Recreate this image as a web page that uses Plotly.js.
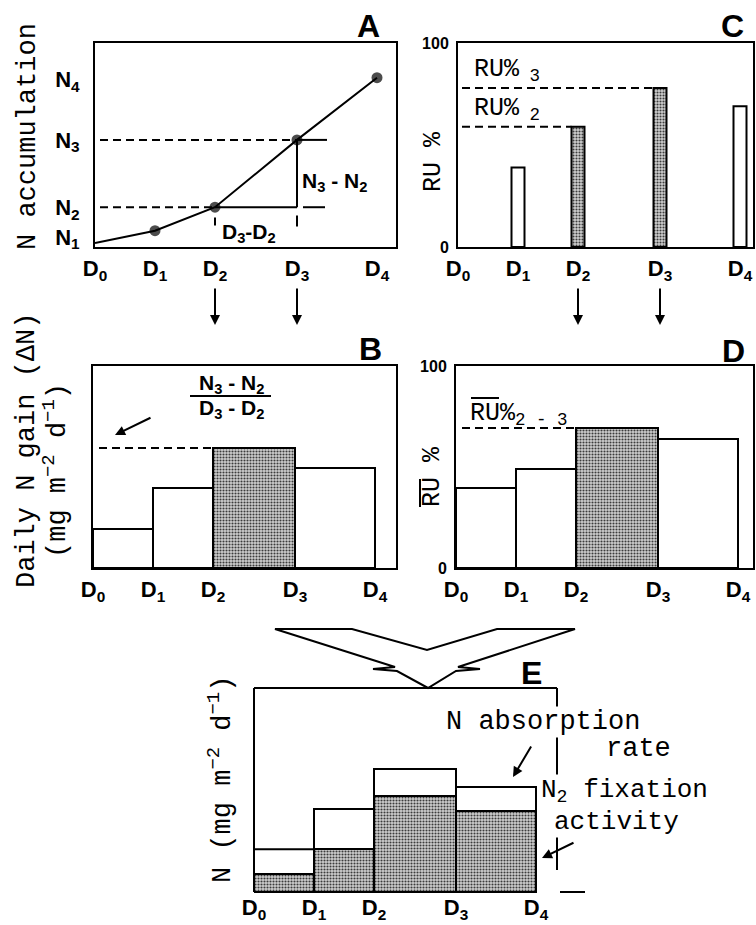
<!DOCTYPE html>
<html>
<head>
<meta charset="utf-8">
<script src="https://cdn.plot.ly/plotly-3.0.1.min.js"></script>
<style>html,body{margin:0;padding:0;background:#fff;}#chart{width:756px;height:925px;}</style>
</head>
<body>
<div id="chart"></div>
<script>
// ---------------- data ----------------
const dLabels = ['D<sub>0</sub>', 'D<sub>1</sub>', 'D<sub>2</sub>', 'D<sub>3</sub>', 'D<sub>4</sub>'];
const dDays = [0, 30, 60, 101, 141];
const nAccum = [2, 8, 19.5, 52.5, 83];
const nTickVals = [5, 19.5, 52.5, 82];
const nTickText = ['N<sub>1</sub>', 'N<sub>2</sub>', 'N<sub>3</sub>', 'N<sub>4</sub>'];
const ruPct = [39, 59, 78, 69];            // at D1..D4
const ruShaded = [false, true, true, false];
const dailyGain = [19.3, 39.6, 59.4, 49.5]; // D0-D1 .. D3-D4
const ruMean = [39.6, 49, 69.3, 63.9];
const absorption = [21, 40.7, 60.3, 51.5];
const fixation = [8.8, 21.1, 47.1, 39.7];
const periodShaded = [false, false, true, false];

// ---------------- helpers ----------------
const W = 756, H = 925;
const px = x => x / W;
const py = y => 1 - y / H;
const MONO = '"Liberation Mono", "DejaVu Sans Mono", monospace';
const COND = '"Liberation Sans Narrow", "Liberation Sans", Arial, sans-serif';
const GRAY_BG = '#d0d0d0', GRAY_FG = '#3c3c3c';
const DASH = '8px,5px';

const mids = dDays.slice(0, -1).map((d, i) => (d + dDays[i + 1]) / 2);
const widths = dDays.slice(0, -1).map((d, i) => dDays[i + 1] - d);
const cBarW = 6.5;

const PATTERN = { shape: '.', fgcolor: GRAY_FG, bgcolor: GRAY_BG, size: 3, solidity: 0.4 };
const pick = (arr, flags, want) => arr.filter((v, i) => flags[i] === want);

function barPair(xs, ys, ws, flags, xa, ya) {
  const out = [];
  [false, true].forEach(sh => {
    const t = {
      type: 'bar', x: pick(xs, flags, sh), y: pick(ys, flags, sh), xaxis: xa, yaxis: ya, hoverinfo: 'skip',
      width: Array.isArray(ws) ? pick(ws, flags, sh) : ws,
      marker: { color: sh ? GRAY_BG : 'white', line: { color: 'black', width: 2 } }
    };
    if (sh) t.marker.pattern = PATTERN;
    out.push(t);
  });
  return out;
}

// ---------------- traces ----------------
const traces = [
  { // A
    type: 'scatter', mode: 'lines+markers', x: dDays, y: nAccum, xaxis: 'x', yaxis: 'y',
    line: { color: 'black', width: 2 },
    marker: { color: 'black', size: dDays.map((d, i) => i === 0 ? 0 : 11), line: { width: 0 } },
    hoverinfo: 'skip'
  },
  ...barPair(dDays.slice(1), ruPct, cBarW, ruShaded, 'x2', 'y2'),          // C
  ...barPair(mids, dailyGain, widths, periodShaded, 'x3', 'y3'),           // B
  ...barPair(mids, ruMean, widths, periodShaded, 'x4', 'y4'),              // D
  { // E absorption
    type: 'bar', x: mids, y: absorption, width: widths, xaxis: 'x5', yaxis: 'y5',
    marker: { color: 'white', line: { color: 'black', width: 2 } }, hoverinfo: 'skip'
  },
  { // E fixation
    type: 'bar', x: mids, y: fixation, width: widths, xaxis: 'x5', yaxis: 'y5',
    marker: { color: GRAY_BG, line: { color: 'black', width: 2 }, pattern: PATTERN }, hoverinfo: 'skip'
  }
];

// ---------------- axes ----------------
const tickFont = { family: COND, size: 22, weight: 'bold', color: 'black' };
function xAx(l, r, range, anchor, opts) {
  return Object.assign({
    domain: [px(l), px(r)], range: range, anchor: anchor, showgrid: false, zeroline: false,
    showline: true, mirror: true, linecolor: 'black', linewidth: 2, ticks: '',
    tickmode: 'array', tickvals: dDays.slice(), ticktext: dLabels.slice(), tickfont: tickFont,
    ticklabelstandoff: 1, fixedrange: true
  }, opts || {});
}
function yAx(t, b, anchor, opts) {
  return Object.assign({
    domain: [py(b), py(t)], range: [0, 100], anchor: anchor, showgrid: false, zeroline: false,
    showline: true, mirror: true, linecolor: 'black', linewidth: 2, ticks: '',
    showticklabels: false, fixedrange: true
  }, opts || {});
}
function ruTicks() {
  return { showticklabels: true, tickmode: 'array', tickvals: [0, 100], ticktext: ['0', '100'],
    tickfont: { family: '"Liberation Sans", Arial, sans-serif', size: 16, weight: 'bold', color: 'black' }, ticklabelstandoff: 4 };
}

// ---------------- annotations ----------------
function txt(text, x, y, opts) {
  return Object.assign({
    text: text, x: px(x), y: py(y), xref: 'paper', yref: 'paper', showarrow: false,
    xanchor: 'center', yanchor: 'middle', borderpad: 0, font: { family: MONO, size: 25, color: 'black' }
  }, opts || {});
}
const mono = (s) => ({ family: MONO, size: s, color: 'black' });
const condBold = (s) => ({ family: COND, size: s, weight: 'bold', color: 'black' });
function downArrow(xref, xv) {
  return { text: '', xref: xref, x: xv, yref: 'paper', y: py(325), showarrow: true,
    ax: 0, ay: -38, arrowhead: 2, arrowsize: 1, arrowwidth: 2, arrowcolor: 'black' };
}

const annotations = [
  // axis titles
  txt('N accumulation', 28, 137, { textangle: -90, font: mono(27) }),
  txt('Daily N gain (ΔN)', 27, 451, { textangle: -90, font: mono(27) }),
  txt('(mg m<sup>−2</sup> d<sup>−1</sup>)', 55, 471, { textangle: -90, font: mono(27) }),
  txt('RU %', 433, 162, { textangle: -90 }),
  txt('RU %', 433, 477, { textangle: -90 }),
  txt('N (mg m<sup>−2</sup> d<sup>−1</sup>)', 220, 780, { textangle: -90, font: mono(27) }),
  // panel letters
  txt('A', 368, 26, { font: condBold(32) }),
  txt('C', 732, 26, { font: condBold(32) }),
  txt('B', 370, 349, { font: condBold(32) }),
  txt('D', 733, 351, { font: condBold(32) }),
  txt('E', 531, 673, { font: condBold(32) }),
  // panel A
  txt('N<sub>3</sub> - N<sub>2</sub>', 301, 182, { xanchor: 'left', font: condBold(21) }),
  txt('D<sub>3</sub>-D<sub>2</sub>', 221, 233, { xanchor: 'left', font: condBold(21) }),
  // panel B
  txt('N<sub>3</sub> - N<sub>2</sub>', 231, 384, { font: condBold(21) }),
  txt('D<sub>3</sub> - D<sub>2</sub>', 231, 409, { font: condBold(21) }),
  { text: '', xref: 'paper', yref: 'paper', x: px(115), y: py(435), showarrow: true, ax: 37, ay: -18,
    arrowhead: 2, arrowsize: 1, arrowwidth: 2, arrowcolor: 'black' },
  // panel C
  txt('RU%<sub> 3</sub>', 473, 70, { xanchor: 'left' }),
  txt('RU%<sub> 2</sub>', 473, 109, { xanchor: 'left' }),
  // panel D
  txt('RU%<sub>2 - 3</sub>', 469, 414, { xanchor: 'left' }),
  // panel E
  txt('N absorption', 445, 722, { xanchor: 'left', bgcolor: 'white', font: mono(27) }),
  txt('rate', 605, 749, { xanchor: 'left', font: mono(27) }),
  txt('N<sub>2</sub> fixation', 540, 791, { xanchor: 'left', bgcolor: 'white', font: mono(26) }),
  txt('activity', 553, 822, { xanchor: 'left', bgcolor: 'white', font: mono(26) }),
  { text: '', xref: 'paper', yref: 'paper', x: px(513), y: py(777), showarrow: true, ax: 19, ay: -32,
    arrowhead: 2, arrowsize: 1, arrowwidth: 2, arrowcolor: 'black' },
  { text: '', xref: 'paper', yref: 'paper', x: px(542), y: py(858), showarrow: true, ax: 33, ay: -16,
    arrowhead: 2, arrowsize: 1, arrowwidth: 2, arrowcolor: 'black' },
  // arrows between rows
  downArrow('x', dDays[2]), downArrow('x', dDays[3]),
  downArrow('x2', dDays[2]), downArrow('x2', dDays[3])
];

// ---------------- shapes ----------------
function seg(x0, y0, x1, y1, dash) {
  return { type: 'line', xref: 'paper', yref: 'paper', x0: px(x0), y0: py(y0), x1: px(x1), y1: py(y1),
    line: { color: 'black', width: 2, dash: dash || 'solid' }, layer: 'above' };
}
function dseg(xr, yr, x0, y0, x1, y1, dash) {
  return { type: 'line', xref: xr, yref: yr, x0: x0, y0: y0, x1: x1, y1: y1,
    line: { color: 'black', width: 2, dash: dash || 'solid' }, layer: 'above' };
}
const chevron = [[275, 629], [352, 629], [427, 650], [497, 629], [575, 629], [458, 667], [480, 669], [456, 671],
  [428, 688], [397, 671], [373, 669], [395, 667]];
const chevronPath = 'M ' + chevron.map(p => px(p[0]).toFixed(5) + ',' + py(p[1]).toFixed(5)).join(' L ') + ' Z';

const shapes = [
  // panel A guides
  dseg('x', 'y', 2.5, nAccum[3], dDays[3], nAccum[3], DASH),
  dseg('x', 'y', dDays[3], nAccum[3], dDays[3] + 15, nAccum[3]),
  dseg('x', 'y', 2.5, nAccum[2], dDays[2], nAccum[2], DASH),
  dseg('x', 'y', dDays[2], nAccum[2], dDays[3], nAccum[2]),
  dseg('x', 'y', dDays[3] + 3, nAccum[2], dDays[3] + 14, nAccum[2]),
  dseg('x', 'y', dDays[3], nAccum[2], dDays[3], nAccum[3]),
  dseg('x', 'y', dDays[2], 10.5, dDays[2], 14.5),
  dseg('x', 'y', dDays[3], 10, dDays[3], 15.5),
  // panel C guides
  dseg('x2', 'y2', 2, ruPct[2], dDays[3] - cBarW / 2, ruPct[2], DASH),
  dseg('x2', 'y2', 2, ruPct[1], dDays[2] - cBarW / 2, ruPct[1], DASH),
  // panel B guides
  dseg('x3', 'y3', 3, dailyGain[2], dDays[2], dailyGain[2], DASH),
  seg(190, 396, 271, 396),
  // panel D guides
  dseg('x4', 'y4', 3, ruMean[2], dDays[2], ruMean[2], DASH),
  seg(471, 398, 499, 398),
  seg(420, 479, 420, 507),
  // panel E frame
  seg(254, 688, 557, 688), seg(254, 688, 254, 892), seg(557, 688, 557, 870),
  seg(254, 892, 537, 892), seg(560, 892, 585, 892),
  // big arrow
  { type: 'path', xref: 'paper', yref: 'paper', path: chevronPath, fillcolor: 'white',
    line: { color: 'black', width: 2 }, layer: 'above' }
];

const layout = {
  width: W, height: H, margin: { l: 0, r: 0, t: 0, b: 0 },
  paper_bgcolor: 'white', plot_bgcolor: 'white', showlegend: false, barmode: 'overlay', bargap: 0,
  xaxis: xAx(95, 396, [0, 150.5], 'y'),
  yaxis: yAx(43, 247, 'x', { showticklabels: true, tickmode: 'array', tickvals: nTickVals, ticktext: nTickText,
    tickfont: tickFont, ticklabelstandoff: 9 }),
  xaxis2: xAx(458, 753, [0, 147.5], 'y2'),
  yaxis2: yAx(43, 247, 'x2', ruTicks()),
  xaxis3: xAx(93, 396, [0, 151.5], 'y3'),
  yaxis3: yAx(366, 568, 'x3'),
  xaxis4: xAx(456, 753, [0, 148.5], 'y4'),
  yaxis4: yAx(366, 568, 'x4', ruTicks()),
  xaxis5: xAx(254, 557, [0, 151.5], 'y5', { showline: false, mirror: false, ticklabelstandoff: 0 }),
  yaxis5: yAx(688, 892, 'x5', { showline: false, mirror: false }),
  annotations: annotations,
  shapes: shapes
};

Plotly.newPlot('chart', traces, layout, { staticPlot: true, displayModeBar: false });
</script>
</body>
</html>
